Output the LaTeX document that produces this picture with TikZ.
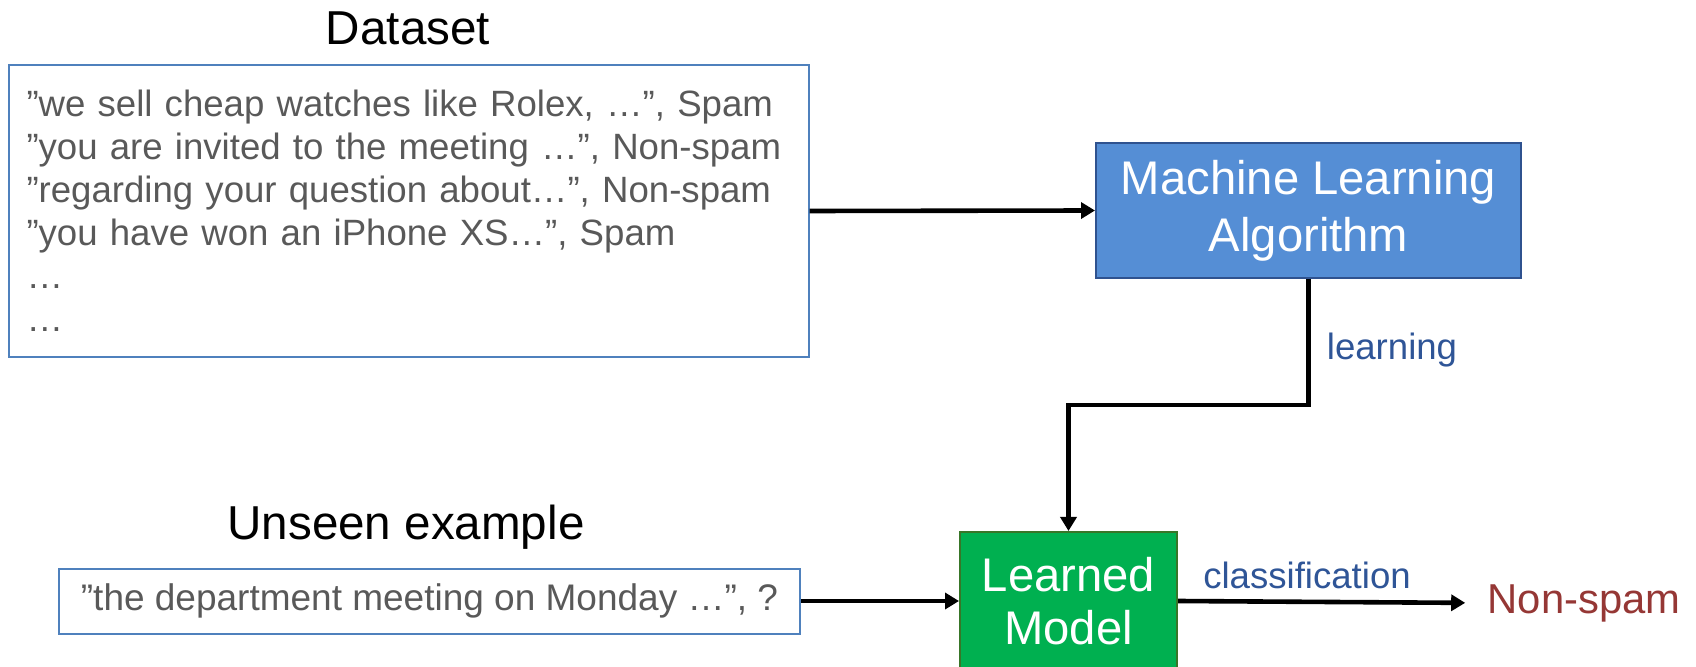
\documentclass[tikz,border=0pt]{standalone}
\usepackage{fontspec}
\setmainfont{Liberation Sans}
\usetikzlibrary{arrows.meta}
\definecolor{boxblue}{RGB}{79,129,189}
\definecolor{textgray}{RGB}{89,89,89}
\definecolor{mlblue}{RGB}{85,142,213}
\definecolor{mlborder}{RGB}{47,82,143}
\definecolor{lmgreen}{RGB}{0,176,80}
\definecolor{lmborder}{RGB}{56,118,40}
\definecolor{labelblue}{RGB}{47,85,151}
\definecolor{outred}{RGB}{149,55,53}

\begin{document}
\begin{tikzpicture}[
        x=0.5pt, y=-0.5pt,
        title/.style={font=\fontsize{23.8}{28}\selectfont},
        textbox/.style={draw=boxblue, line width=1pt, text=textgray,
          font=\fontsize{18.5}{21.8}\selectfont},
        algobox/.style={draw=mlborder, fill=mlblue, line width=1pt, text=white,
          align=center, font=\fontsize{23.6}{28.5}\selectfont},
        modelbox/.style={draw=lmborder, fill=lmgreen, line width=1pt, text=white,
          align=center, font=\fontsize{23.6}{26.5}\selectfont},
        edgelabel/.style={text=labelblue, font=\fontsize{18.3}{22}\selectfont},
        conn/.style={line width=2.3pt, -{Triangle[length=7pt,width=8pt]}}
      ]
        \useasboundingbox (0,0) rectangle (1696,667);
        \node[title] (datatitle) at (408,28) {Dataset};
        \node[textbox, minimum width=400pt, minimum height=146pt,
          text width=382pt, inner xsep=9pt, align=left,
          font=\fontsize{18.3}{21.5}\selectfont] (data) at (408.5,211)
          {”we sell cheap watches like Rolex, …”, Spam\\
           ”you are invited to the meeting …”, Non-spam\\
           ”regarding your question about…”, Non-spam\\
           ”you have won an iPhone XS…”, Spam\\
           …\\
           …};
        \node[algobox, minimum width=212.5pt, minimum height=67.5pt] (algo)
          at (1308.5,210.5) {Machine Learning\\Algorithm};
        \node[title] (unseentitle) at (406,527) {Unseen example};
        \node[textbox, minimum width=370.5pt, minimum height=32.5pt] (unseen)
          at (429.5,601) {”the department meeting on Monday …”, ?};
        \node[modelbox, minimum width=108.5pt, minimum height=69pt] (model)
          at (1068.5,601) {Learned\\Model};
        \node[text=outred, font=\fontsize{20.9}{25}\selectfont, inner sep=0pt]
          (result) at (1584,603) {Non-spam};
        \coordinate (bend) at (1308.5,405);
        \draw[conn] (data.east) -- (algo.west);
        \draw[conn] (algo.south) -- (bend) -| (model.north);
        \draw[conn] (unseen.east) -- (model.west);
        \draw[conn, shorten >=11pt] (model.east) -- (result.west);
        \node[edgelabel] (learnlabel) at (1392,350) {learning};
        \node[edgelabel] (classlabel) at (1307,575) {classification};
      \end{tikzpicture}
\end{document}
